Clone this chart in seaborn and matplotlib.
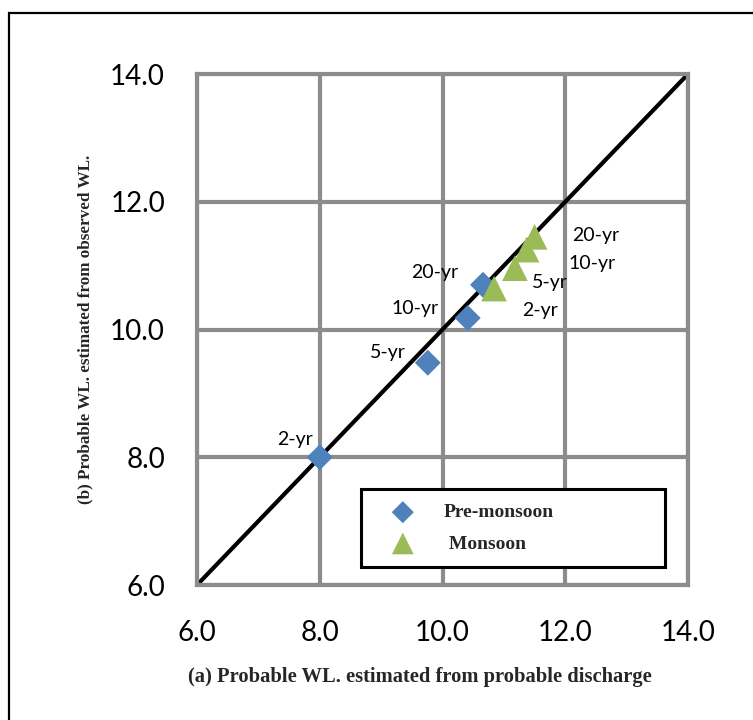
import matplotlib
matplotlib.use("Agg")
import matplotlib.pyplot as plt
import matplotlib.patches as mpatches
import numpy as np
import pandas as pd
import seaborn as sns

# Return-period water levels (m)
periods = ["2-yr", "5-yr", "10-yr", "20-yr"]
pre_from_discharge = [8.0, 9.76, 10.41, 10.66]
pre_from_observed = [8.0, 9.48, 10.18, 10.70]
mon_from_discharge = [10.84, 11.18, 11.37, 11.50]
mon_from_observed = [10.64, 10.96, 11.25, 11.45]

axis_limits = [6.0, 14.0]
tick_values = [6.0, 8.0, 10.0, 12.0, 14.0]

pre_df = pd.DataFrame({"x": pre_from_discharge, "y": pre_from_observed, "period": periods})
mon_df = pd.DataFrame({"x": mon_from_discharge, "y": mon_from_observed, "period": periods})

sns.set_style("white")
plt.rcParams["font.family"] = ["Lato", "DejaVu Sans"]

fig = plt.figure(figsize=(7.53, 7.2), dpi=100)
ax = fig.add_axes([0.2616, 0.1875, 0.6521, 0.7097])

grid_color = "#8c8c8c"
ax.set_xlim(axis_limits)
ax.set_ylim(axis_limits)
ax.set_xticks(tick_values)
ax.set_yticks(tick_values)
ax.set_xticklabels([f"{v:.1f}" for v in tick_values])
ax.set_yticklabels([f"{v:.1f}" for v in tick_values])
ax.grid(True, color=grid_color, linewidth=3.0)
ax.set_axisbelow(True)
for side in ax.spines.values():
    side.set_color(grid_color)
    side.set_linewidth(3.0)
ax.tick_params(axis="both", length=10, width=3.0, color=grid_color,
               labelsize=20, labelcolor="black", direction="out")
ax.tick_params(axis="y", pad=13)
ax.tick_params(axis="x", pad=15)

# 1:1 line
ax.plot(axis_limits, axis_limits, color="black", linewidth=3.0, zorder=2,
        solid_capstyle="butt")

blue = "#4f81bd"
green = "#9bbb59"
sns.scatterplot(data=pre_df, x="x", y="y", marker="D", s=175, color=blue,
                edgecolor="none", linewidth=0, ax=ax, zorder=3,
                label="Pre-monsoon", legend=False)
sns.scatterplot(data=mon_df, x="x", y="y", marker="^", s=340, color=green,
                edgecolor="none", linewidth=0, ax=ax, zorder=4,
                label=" Monsoon", legend=False)

# Data labels (offsets in points)
pre_offsets = [(-18, 13), (-29, 7), (-38, 7), (-35, 9)]
mon_offsets = [(33, -16), (25, -10), (47, -10), (44, 1)]
for (xv, yv, lab), off in zip(zip(pre_from_discharge, pre_from_observed, periods), pre_offsets):
    ax.annotate(lab, (xv, yv), xytext=off, textcoords="offset points",
                ha="center", va="center", fontsize=14, color="black", zorder=5)
for (xv, yv, lab), off in zip(zip(mon_from_discharge, mon_from_observed, periods), mon_offsets):
    ax.annotate(lab, (xv, yv), xytext=off, textcoords="offset points",
                ha="center", va="center", fontsize=14, color="black", zorder=5)

ax.set_xlabel("(a) Probable WL. estimated from probable discharge",
              family="Liberation Serif", fontweight="bold", fontsize=14.8)
ax.set_ylabel("(b) Probable WL. estimated from observed WL.",
              family="Liberation Serif", fontweight="bold", fontsize=12.3)
ax.xaxis.set_label_coords(0.454, -0.16)
ax.yaxis.set_label_coords(-0.21, 0.5)

leg = ax.legend(loc="lower left", bbox_to_anchor=(0.334, 0.035, 0.619, 0.157),
                mode="expand", borderaxespad=0, frameon=True, fancybox=False,
                framealpha=1, edgecolor="black", borderpad=0.75,
                labelspacing=0.7, handlelength=2.8, handletextpad=0.7,
                markerscale=0.85,
                prop={"family": "Liberation Serif", "weight": "bold", "size": 14})
leg.get_frame().set_linewidth(2.2)

# Outer chart border
fig.patches.append(mpatches.Rectangle((9 / 753, -0.05), 1.1, (720 - 13) / 720 + 0.05,
                                      transform=fig.transFigure, fill=False,
                                      edgecolor="black", linewidth=1.6))

fig.savefig("out.png", dpi=100)
